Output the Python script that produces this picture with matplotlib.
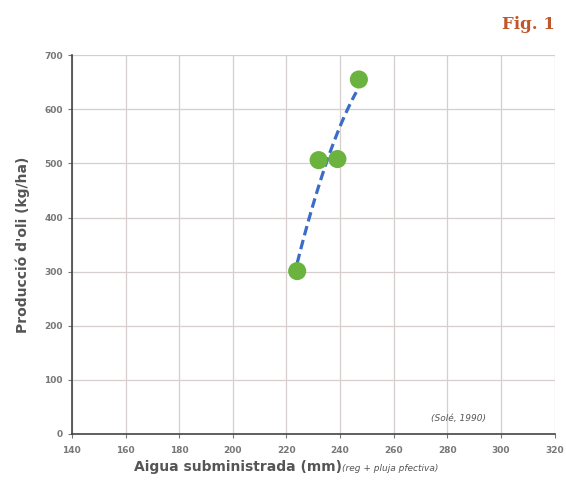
import numpy as np
import matplotlib
matplotlib.use("Agg")
import matplotlib.pyplot as plt

water = [224, 232, 239, 247]
oil = [301, 506, 508, 655]
xticks = [140, 160, 180, 200, 220, 240, 260, 280, 300, 320]
yticks = [0, 100, 200, 300, 400, 500, 600, 700]

fig = plt.figure(figsize=(5.66, 4.82), dpi=100)
ax = fig.add_axes([0.127, 0.0996, 0.853, 0.786])

ax.set_xlim(140, 320)
ax.set_ylim(0, 700)
ax.set_xticks(xticks)
ax.set_yticks(yticks)
ax.grid(True, color="#d6cfcd", linewidth=0.9)
ax.set_axisbelow(True)
for s in ["top", "right"]:
    ax.spines[s].set_visible(False)
for s in ["left", "bottom"]:
    ax.spines[s].set_color("#444444")
    ax.spines[s].set_linewidth(1.2)
ax.tick_params(axis="both", labelsize=6.5, colors="#777777", length=3, width=0.8)
ax.tick_params(axis="x", pad=6)
for lab in ax.get_xticklabels() + ax.get_yticklabels():
    lab.set_fontweight("bold")

coef = np.polyfit(water, oil, 2)
xs = np.linspace(min(water), max(water) - 1, 100)
ax.plot(xs, np.polyval(coef, xs), color="#3a6cc8", linewidth=2.3,
        linestyle=(0, (3, 1.5)), zorder=3)
ax.scatter(water, oil, s=170, color="#6ab33e", zorder=4, edgecolors="none")

ax.set_ylabel("Producció d'oli (kg/ha)", fontsize=10, fontweight="bold",
              color="#555555", labelpad=10)
fig.text(0.42, 0.022, "Aigua subministrada (mm)", fontsize=10,
         fontweight="bold", color="#555555", ha="center")
fig.text(0.605, 0.022, "(reg + pluja pfectiva)", fontsize=6.5,
         style="italic", color="#555555", ha="left")
ax.text(0.80, 0.035, "(Solé, 1990)", transform=ax.transAxes, fontsize=6.5,
        style="italic", color="#555555", ha="center")
fig.text(0.98, 0.94, "Fig. 1", fontsize=12, fontweight="bold",
         family="DejaVu Serif", color="#c0562a", ha="right")

fig.savefig("out.png", dpi=100, facecolor="white")
